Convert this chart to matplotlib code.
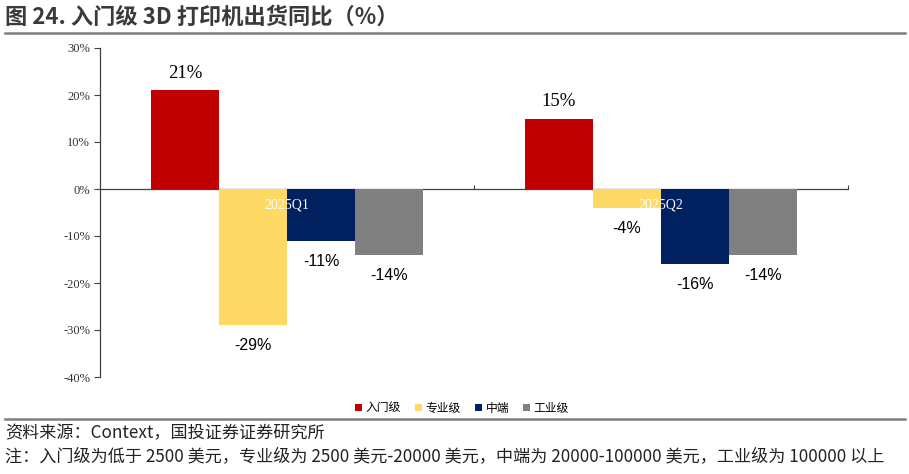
import matplotlib
matplotlib.use("Agg")
import matplotlib.pyplot as plt
import numpy as np
from matplotlib.patches import Patch
from matplotlib.lines import Line2D

plt.rcParams['font.family'] = ['Noto Sans CJK SC', 'DejaVu Sans']

categories = ["2025Q1", "2025Q2"]
series_names = ["入门级", "专业级", "中端", "工业级"]
values = {
    "入门级": [21, 15],
    "专业级": [-29, -4],
    "中端": [-11, -16],
    "工业级": [-14, -14],
}
colors = ["#C00000", "#FFD966", "#002060", "#808080"]
yticks = [30, 20, 10, 0, -10, -20, -30, -40]

title = "图 24. 入门级 3D 打印机出货同比（%）"
source = "资料来源：Context，国投证券证券研究所"
note = "注：入门级为低于 2500 美元，专业级为 2500 美元-20000 美元，中端为 20000-100000 美元，工业级为 100000 以上"

fig = plt.figure(figsize=(9.09, 4.74), dpi=100)
ax = fig.add_axes([100/909, 1-377/474, 748/909, 329/474])

x = np.arange(len(categories))
w = 0.182
n = len(series_names)
for i, (name, c) in enumerate(zip(series_names, colors)):
    offs = (i - (n-1)/2) * w
    vals = values[name]
    ax.bar(x + offs, vals, width=w, color=c, label=name, zorder=2)
    for xi, v in zip(x + offs, vals):
        if v >= 0:
            ax.text(xi, v + 1.8, f"{v}%", ha="center", va="bottom",
                    fontsize=13.5, family="Liberation Serif", color="black")
        else:
            ax.text(xi, v - 2.8, f"{v}%", ha="center", va="top",
                    fontsize=11.5, family="Liberation Sans", color="black")

for xi, cat in zip(x, categories):
    ax.text(xi, -2.0, cat, ha="center", va="top", fontsize=10,
            family="Liberation Serif", color="white", zorder=3)

ax.set_xlim(-0.5, len(categories) - 0.5)
ax.set_ylim(-40, 30)
ax.set_yticks(yticks)
ax.set_yticklabels([f"{t}%" for t in yticks], family="Liberation Serif", fontsize=9, color="#333333")
ax.tick_params(axis="y", direction="out", length=4, width=0.8, color="#404040", pad=3)
ax.spines["left"].set_color("#404040")
ax.spines["left"].set_linewidth(0.9)
for s in ["top", "right"]:
    ax.spines[s].set_visible(False)
ax.spines["bottom"].set_position(("data", 0))
ax.spines["bottom"].set_color("#404040")
ax.spines["bottom"].set_linewidth(0.9)
ax.spines["bottom"].set_zorder(1)
ax.set_xticks([0.5, 1.5])
ax.set_xticklabels([])
ax.tick_params(axis="x", direction="in", length=3, width=0.8, color="#404040")

handles = [Patch(facecolor=c, edgecolor="none") for c in colors]
fig.legend(handles, series_names, loc="center", bbox_to_anchor=(462/909, 1-408/474),
           ncol=4, frameon=False, handlelength=0.6, handleheight=0.6,
           handletextpad=0.3, columnspacing=1.2, prop={"family": ["Noto Sans CJK SC"], "size": 8.5})

fig.text(5/909, 1-17/474, title, fontsize=16, fontweight="bold", color="#3a3a3a",
         ha="left", va="center")
fig.add_artist(Line2D([5/909, 905/909], [1-33/474, 1-33/474], color="#7f7f7f", lw=1.8))
fig.add_artist(Line2D([5/909, 905/909], [1-419/474, 1-419/474], color="#7f7f7f", lw=1.8))
fig.text(5/909, 1-433/474, source, fontsize=12.3, color="#222222", ha="left", va="center")
fig.text(5/909, 1-456/474, note, fontsize=12.3, color="#222222", ha="left", va="center")

fig.savefig("out.png", dpi=100)
